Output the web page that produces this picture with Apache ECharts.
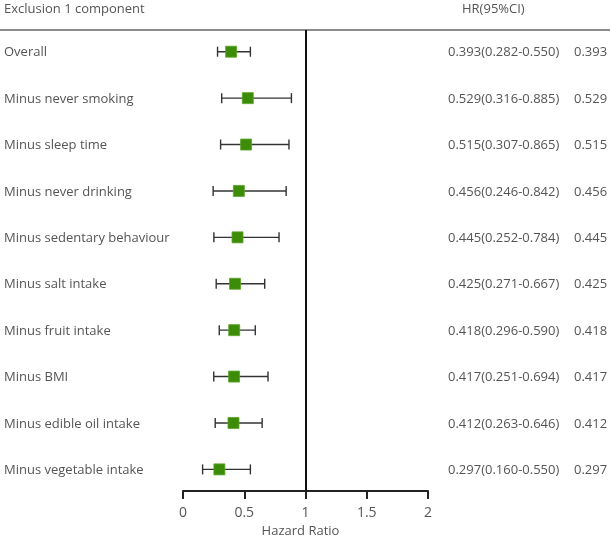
<!DOCTYPE html>
<html>
<head>
<meta charset="utf-8">
<script src="https://cdn.jsdelivr.net/npm/echarts@6/dist/echarts.min.js"></script>
<style>
html,body{margin:0;padding:0;background:#fff;}
#chart{width:612px;height:543px;}
</style>
</head>
<body>
<div id="chart"></div>
<script>
const labels = [
  "Overall",
  "Minus never smoking",
  "Minus sleep time",
  "Minus never drinking",
  "Minus sedentary behaviour",
  "Minus salt intake",
  "Minus fruit intake",
  "Minus BMI",
  "Minus edible oil intake",
  "Minus vegetable intake"
];
const hr = [0.393, 0.529, 0.515, 0.456, 0.445, 0.425, 0.418, 0.417, 0.412, 0.297];
const lo = [0.282, 0.316, 0.307, 0.246, 0.252, 0.271, 0.296, 0.251, 0.263, 0.160];
const hi = [0.550, 0.885, 0.865, 0.842, 0.784, 0.667, 0.590, 0.694, 0.646, 0.550];
const xTicks = [0, 0.5, 1, 1.5, 2];

const FONT = "'Open Sans', 'Noto Sans', sans-serif";
const TXT = '#555';
const f3 = v => v.toFixed(3);

const data = labels.map((l, i) => [i, hr[i], lo[i], hi[i]]);

const chart = echarts.init(document.getElementById('chart'));
chart.setOption({
  animation: false,
  backgroundColor: '#fff',
  grid: { left: 183, right: 184, top: 30, bottom: 46 },
  xAxis: {
    type: 'value', min: 0, max: 2, interval: 0.5,
    splitLine: { show: false },
    axisLine: { show: true, onZero: false, lineStyle: { color: '#222', width: 2 } },
    axisTick: { show: true, length: 8, lineStyle: { color: '#222', width: 2 } },
    axisLabel: {
      color: TXT, fontFamily: FONT, fontSize: 14, margin: 15,
      formatter: v => xTicks.includes(v) ? String(v) : ''
    },
    name: 'Hazard Ratio', nameLocation: 'middle', nameGap: 33,
    nameTextStyle: { color: TXT, fontFamily: FONT, fontSize: 13, padding: [0, 10, 0, 0] }
  },
  yAxis: {
    type: 'value', inverse: true, min: -0.468, max: 9.468,
    show: false
  },
  graphic: [
    { type: 'line', shape: { x1: 0, y1: 30, x2: 610, y2: 30 }, style: { stroke: '#666', lineWidth: 1.5 } },
    { type: 'text', x: 4, y: 9, style: { text: 'Exclusion 1 component', fill: TXT, font: '13px ' + FONT, verticalAlign: 'middle', textVerticalAlign: 'middle' } },
    { type: 'text', x: 462, y: 9, style: { text: 'HR(95%CI)', fill: TXT, font: '13px ' + FONT, verticalAlign: 'middle', textVerticalAlign: 'middle' } }
  ],
  series: [{
    type: 'custom',
    data: data,
    clip: false,
    encode: { x: 1, y: 0 },
    renderItem: function (params, api) {
      const i = api.value(0);
      const c = api.coord([api.value(1), i]);
      const l = api.coord([api.value(2), i]);
      const h = api.coord([api.value(3), i]);
      const y = c[1];
      const capH = 5;
      const sq = 11;
      const lineStyle = { stroke: '#333', lineWidth: 1.4 };
      const ts = t => ({ text: t, fill: TXT, font: '13px ' + FONT, textVerticalAlign: 'middle', verticalAlign: 'middle' });
      return {
        type: 'group',
        children: [
          { type: 'line', shape: { x1: l[0], y1: y, x2: h[0], y2: y }, style: lineStyle },
          { type: 'line', shape: { x1: l[0], y1: y - capH, x2: l[0], y2: y + capH }, style: lineStyle },
          { type: 'line', shape: { x1: h[0], y1: y - capH, x2: h[0], y2: y + capH }, style: lineStyle },
          { type: 'rect', shape: { x: c[0] - sq / 2, y: y - sq / 2, width: sq, height: sq },
            style: { fill: '#3c8c08', stroke: '#5aa52a', lineWidth: 0.8 } },
          { type: 'text', x: 4, y: y + 1, style: ts(labels[i]) },
          { type: 'text', x: 448, y: y + 1, style: ts(f3(hr[i]) + '(' + f3(lo[i]) + '-' + f3(hi[i]) + ')') },
          { type: 'text', x: 574, y: y + 1, style: ts(f3(hr[i])) }
        ]
      };
    },
    markLine: {
      silent: true, symbol: 'none',
      label: { show: false },
      lineStyle: { color: '#111', width: 2, type: 'solid' },
      data: [{ xAxis: 1 }]
    }
  }]
});
</script>
</body>
</html>
